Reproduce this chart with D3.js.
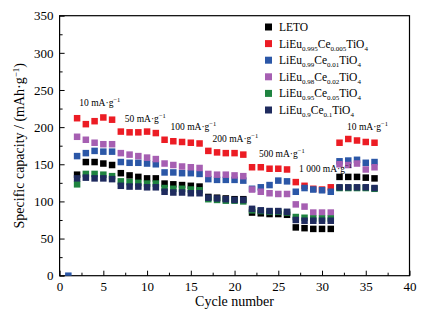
<!DOCTYPE html>
<html><head><meta charset="utf-8">
<script src="https://cdn.jsdelivr.net/npm/d3@7"></script>
<style>body{margin:0;background:#fff}svg{display:block;font-family:"Liberation Serif","Times New Roman",serif}</style>
</head><body><svg id="c" width="426" height="317"></svg>
<script>
const cycles = [1,2,3,4,5,6,7,8,9,10,11,12,13,14,15,16,17,18,19,20,21,22,23,24,25,26,27,28,29,30,31,32,33,34,35,36];
const leto   = [null,136,153,153,151,149,138,135,133,131,131,124,123,122,121,120,106,105,104,103,103,85,84,83,83,82,65,64,63,63,63,133,133,133,132,131];
const ce0005 = [null,212,204,208,213,210,194,193,193,194,192,183,181,180,179,178,168,166,165,165,163,146,146,144,144,143,126,121,117,116,119,179,184,182,180,179];
const ce001  = [0,161,165,168,167,167,153,152,152,151,150,139,139,138,138,137,130,129,129,129,128,117,119,122,128,127,113,118,116,115,113,154,155,156,152,153];
const ce002  = [null,187,183,179,177,177,165,163,161,159,157,151,149,147,146,145,137,136,136,135,134,116,113,111,110,110,96,93,85,85,85,150,149,151,143,146];
const ce005  = [null,123,137,137,136,134,127,126,125,124,124,118,117,117,116,115,103,102,101,101,100,88,87,86,86,85,79,78,77,77,77,118,118,118,118,117];
const ce01   = [null,131,132,131,131,130,121,120,120,119,119,113,112,112,111,111,105,104,103,102,102,90,88,87,87,86,75,74,74,74,74,119,119,119,119,118];
const seriesNames = [["LETO"],["LiEu","0.995","Ce","0.005","TiO","4"],["LiEu","0.99","Ce","0.01","TiO","4"],["LiEu","0.98","Ce","0.02","TiO","4"],["LiEu","0.95","Ce","0.05","TiO","4"],["LiEu","0.9","Ce","0.1","TiO","4"]];
const seriesColors = ["#000000","#ec1c24","#2b57a7","#a65fb2","#1f8440","#1f2b5e"];
const seriesData = [leto, ce0005, ce001, ce002, ce005, ce01];
const rateLabels = ["10 mA·g","50 mA·g","100 mA·g","200 mA·g","500 mA·g","1 000 mA·g","10 mA·g"];
const rateCycle = [4.6,9.8,15.3,20.1,25.4,30.4,35.2];
const rateValue = [229,207,196,180,160,139,196];
const xTicks = [0,5,10,15,20,25,30,35,40];
const yTicks = [0,50,100,150,200,250,300,350];

const svg = d3.select("#c");
const L=59.6,R=409.5,T=15.7,B=275.7;
const x = d3.scaleLinear().domain([0,40]).range([L,R]);
const y = d3.scaleLinear().domain([0,350]).range([B,T]);

svg.append("defs").append("clipPath").attr("id","clip").append("rect").attr("x",L).attr("y",T).attr("width",R-L).attr("height",B-T);

// frame
svg.append("rect").attr("x",L).attr("y",T).attr("width",R-L).attr("height",B-T).attr("fill","none").attr("stroke","#000").attr("stroke-width",1.2);

// axes, ticks inward
const xa = svg.append("g").attr("transform",`translate(0,${B})`).call(d3.axisBottom(x).tickValues(xTicks).tickSizeInner(-5).tickSizeOuter(0).tickPadding(6));
const xm = svg.append("g").attr("transform",`translate(0,${B})`).call(d3.axisBottom(x).tickValues([2.5,7.5,12.5,17.5,22.5,27.5,32.5,37.5]).tickSizeInner(-3).tickSizeOuter(0).tickFormat(""));
const ya = svg.append("g").attr("transform",`translate(${L},0)`).call(d3.axisLeft(y).tickValues(yTicks).tickSizeInner(-5).tickSizeOuter(0).tickPadding(6));
const ym = svg.append("g").attr("transform",`translate(${L},0)`).call(d3.axisLeft(y).tickValues([25,75,125,175,225,275,325]).tickSizeInner(-3).tickSizeOuter(0).tickFormat(""));
[xa,xm,ya,ym].forEach(g=>{g.select(".domain").remove();g.selectAll("line").attr("stroke","#000").attr("stroke-width",1);g.selectAll("text").attr("font-family","Liberation Serif").attr("font-size",13).attr("fill","#000");});
xa.selectAll("text").attr("dy","0.71em");

svg.append("text").attr("x",(L+R)/2).attr("y",306).attr("text-anchor","middle").attr("font-size",14).text("Cycle number");
const yt = svg.append("text").attr("transform",`translate(24,${(T+B)/2}) rotate(-90)`).attr("text-anchor","middle").attr("font-size",14);
yt.append("tspan").text("Specific capacity / (mAh·g");
yt.append("tspan").attr("font-size",9).attr("dy",-5).text("−1");
yt.append("tspan").attr("dy",5).text(")");

// markers
const ms = 6.5;
const plot = svg.append("g").attr("clip-path","url(#clip)");
seriesData.forEach((arr,i)=>{
  const pts = cycles.map((c,j)=>({c,v:arr[j]})).filter(d=>d.v!==null);
  plot.selectAll(null).data(pts).enter().append("rect")
    .attr("x",d=>x(d.c)-ms/2).attr("y",d=>y(d.v)-ms/2).attr("width",ms).attr("height",ms)
    .attr("fill",seriesColors[i]);
});

// rate labels
rateLabels.forEach((t,i)=>{
  const tx = svg.append("text").attr("x",x(rateCycle[i])).attr("y",y(rateValue[i])).attr("text-anchor","middle").attr("font-size",9.5);
  tx.append("tspan").text(t);
  tx.append("tspan").attr("font-size",6.5).attr("dy",-4).text("−1");
});

// legend
const lg = svg.append("g");
seriesNames.forEach((parts,i)=>{
  const yy = 27 + i*16.6;
  lg.append("rect").attr("x",265).attr("y",yy-3.5).attr("width",7).attr("height",7).attr("fill",seriesColors[i]);
  const t = lg.append("text").attr("x",279).attr("y",yy+4).attr("font-size",11.5);
  parts.forEach((p,k)=>{
    const sub = k%2===1;
    const ts = t.append("tspan").text(p);
    if(sub) ts.attr("font-size",7).attr("dy",3);
    else if(k>0) ts.attr("dy",-3);
  });
});
</script></body></html>
